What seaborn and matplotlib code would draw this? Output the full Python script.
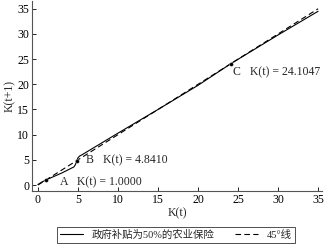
import pandas as pd
import seaborn as sns
import matplotlib.pyplot as plt

# policy function with 50% subsidy
kt = [0.0, 0.5, 1.0, 2.0, 3.0, 4.0, 4.5, 4.7, 4.84, 5.0, 5.2, 5.5, 10.0, 15.0, 20.0, 24.1047, 30.0, 35.0]
kt1 = [0.1, 0.6, 1.0, 1.7, 2.4, 3.2, 3.6, 4.1, 4.84, 5.4, 5.75, 6.0, 10.3, 15.0, 19.8, 24.1047, 29.8, 34.5]
diag = [0, 35]

pts_x = [1.0, 4.841, 24.1047]
pts_lab = ["A   K(t) = 1.0000", "B   K(t) = 4.8410", "C   K(t) = 24.1047"]

sns.set_style("ticks")
plt.rcParams['font.family'] = ['Liberation Serif', 'Noto Sans CJK SC']
plt.rcParams['axes.unicode_minus'] = False

fig = plt.figure(figsize=(3.26, 2.44), dpi=100)
ax = fig.add_axes([0.098, 0.217, 0.89, 0.778])

df = pd.DataFrame({"K(t)": kt, "K(t+1)": kt1})
sns.lineplot(data=df, x="K(t)", y="K(t+1)", sort=False, color="black", lw=0.8,
             ax=ax, label="政府补贴为50%的农业保险")
sns.lineplot(x=diag, y=diag, color="black", lw=0.8, ls=(0, (5, 3)), ax=ax, label="45°线")
sns.scatterplot(x=pts_x, y=pts_x, color="black", s=8, ax=ax, zorder=5, legend=False)

offs = [(1.7, -0.4), (1.2, 0.1), (0.3, -1.8)]
for x, lab, (dx, dy) in zip(pts_x, pts_lab, offs):
    ax.text(x + dx, x + dy, lab, fontsize=8.5, va="center", ha="left")

ax.set_xlim(-0.75, 35.5)
ax.set_ylim(-1.2, 36.5)
ax.set_xticks(range(0, 36, 5))
ax.set_yticks(range(0, 36, 5))
ax.tick_params(direction="in", length=3, width=0.6, labelsize=8.5, pad=2, colors="black")
for s in ["top", "right"]:
    ax.spines[s].set_visible(False)
for s in ["left", "bottom"]:
    ax.spines[s].set_linewidth(0.8)
    ax.spines[s].set_color("#555555")
ax.set_xlabel("K(t)", fontsize=8.5, labelpad=1)
ax.set_ylabel("K(t+1)", fontsize=8.5, labelpad=1)

leg = ax.legend(loc="lower center", bbox_to_anchor=(0.54, 0.004), bbox_transform=fig.transFigure,
                ncol=2, fontsize=7.5, frameon=True, fancybox=False, edgecolor="black",
                handlelength=2.2, columnspacing=2.0, borderpad=0.3, borderaxespad=0)
leg.get_frame().set_linewidth(0.6)

fig.savefig("out.png", dpi=100)
